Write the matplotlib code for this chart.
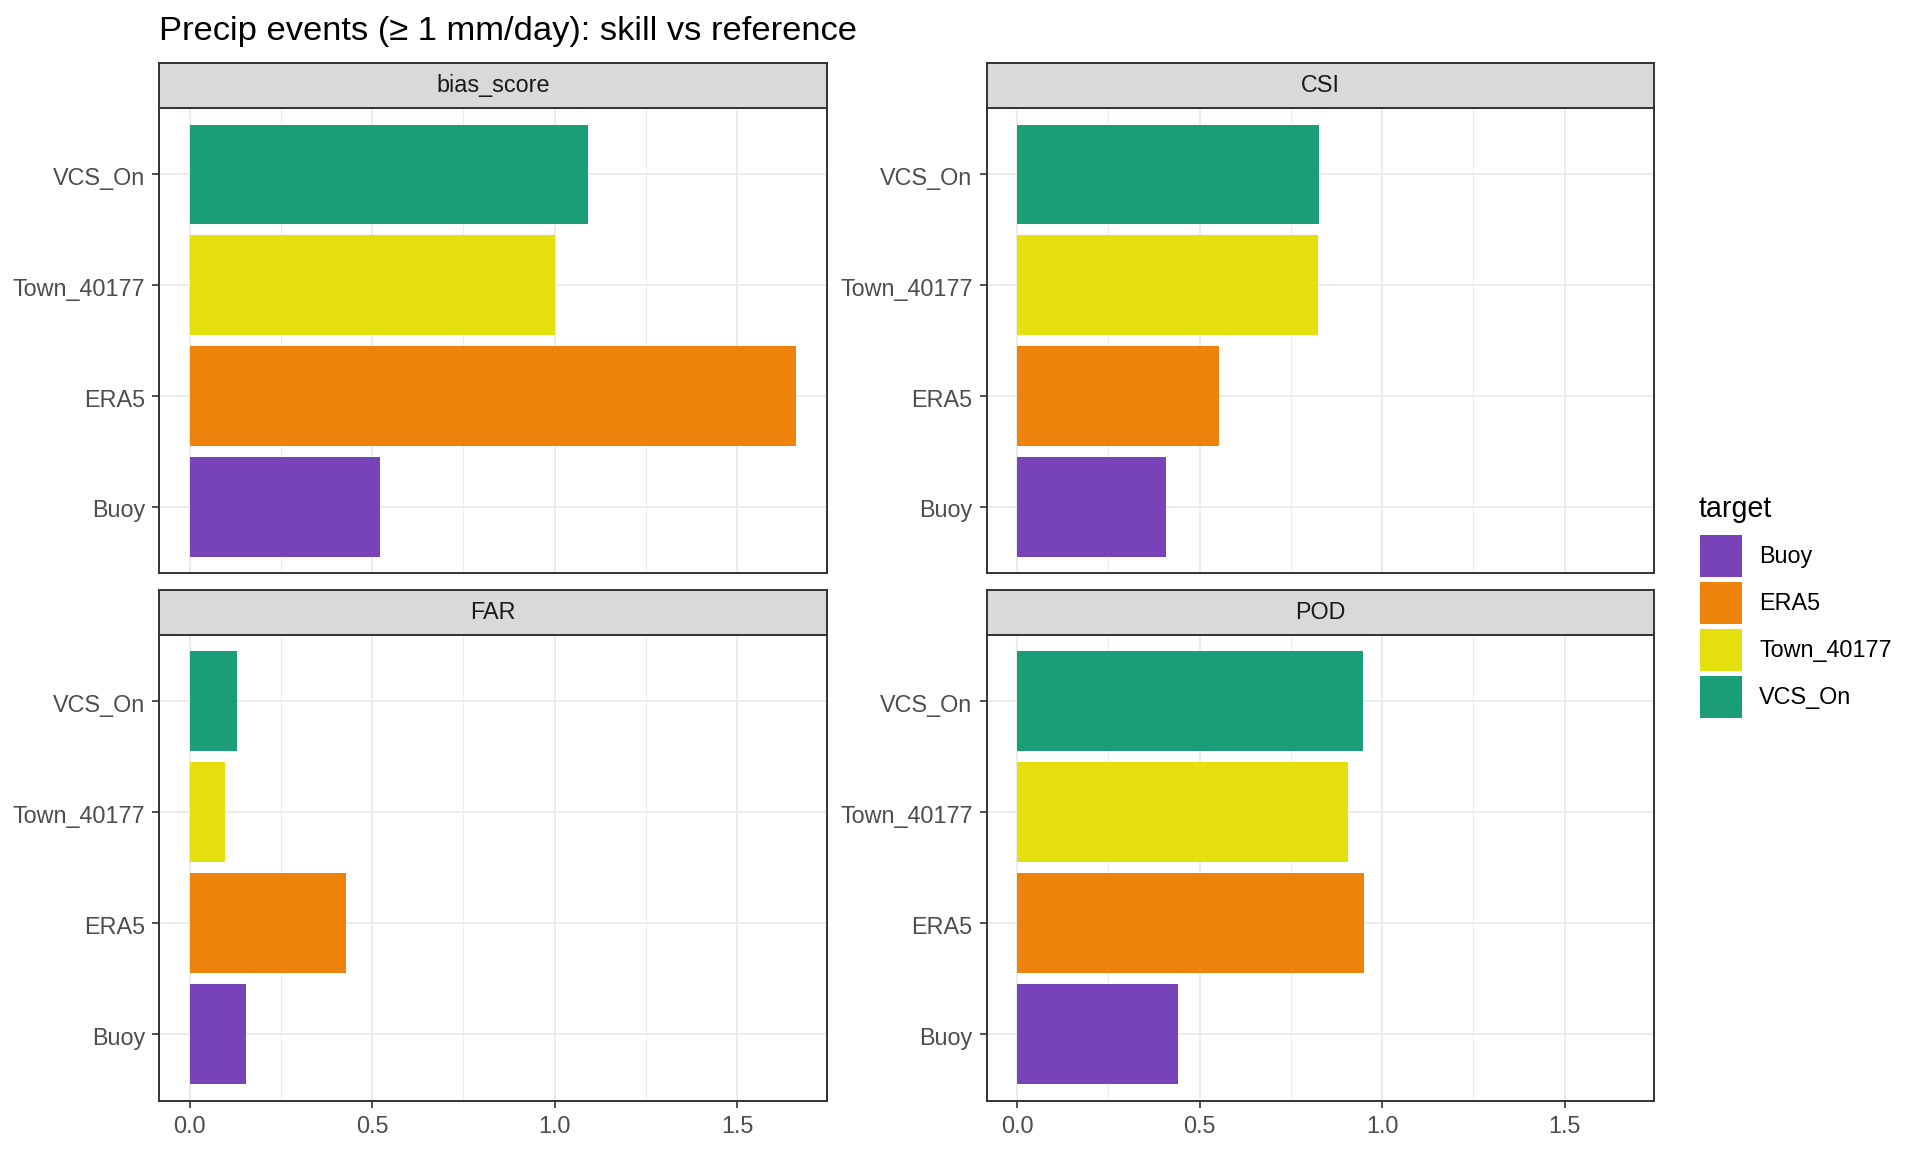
import matplotlib
matplotlib.use("Agg")
import matplotlib.pyplot as plt
from matplotlib.patches import Rectangle
import matplotlib.transforms as mtransforms
import numpy as np

plt.rcParams['font.family'] = ['Liberation Sans', 'DejaVu Sans']

targets = ["Buoy", "ERA5", "Town_40177", "VCS_On"]
colors = ["#7843B9", "#EE830B", "#E6DF0E", "#1B9E77"]
metrics = ["bias_score", "CSI", "FAR", "POD"]
bias_score = [0.522, 1.662, 1.000, 1.092]
csi = [0.408, 0.552, 0.824, 0.827]
far = [0.154, 0.429, 0.097, 0.131]
pod = [0.442, 0.951, 0.907, 0.948]
values = {"bias_score": bias_score, "CSI": csi, "FAR": far, "POD": pod}
xticks = [0.0, 0.5, 1.0, 1.5]
xtick_labels = ["0.0", "0.5", "1.0", "1.5"]
title = "Precip events (\u2265 1 mm/day): skill vs reference"

W, H = 1920.0, 1152.0
fig = plt.figure(figsize=(19.2, 11.52), dpi=100)

cols = [(159.3, 826.7), (986.7, 1654.0)]
rows = [(62.7, 108.0, 573.3), (589.7, 634.7, 1100.7)]

allmax = max(max(v) for v in values.values())
xlim = (-0.05 * allmax, 1.05 * allmax)

border_c = "#333333"
lw_border = 1.4
fs_small = 16.8
ylab_shift = mtransforms.ScaledTranslation(0, -1.5 / 100, fig.dpi_scale_trans)

for i, m in enumerate(metrics):
    r, c = divmod(i, 2)
    x0, x1 = cols[c]
    st, sb, pb = rows[r]
    ax = fig.add_axes([x0 / W, 1 - pb / H, (x1 - x0) / W, (pb - sb) / H])
    ypos = np.arange(1, len(targets) + 1)
    ax.barh(ypos, values[m], height=0.9, color=colors, zorder=3)
    ax.set_ylim(0.4, len(targets) + 0.6)
    ax.set_xlim(*xlim)
    ax.set_yticks(ypos)
    ax.set_yticklabels(targets)
    ax.set_xticks(xticks)
    ax.set_xticklabels(xtick_labels)
    ax.set_xticks([0.25, 0.75, 1.25], minor=True)
    ax.tick_params(axis='both', which='major', length=5.2, width=1.2, color=border_c,
                   labelsize=fs_small, labelcolor="#4D4D4D", pad=5)
    ax.tick_params(axis='x', which='minor', length=0)
    ax.grid(True, which='major', color="#EBEBEB", linewidth=1.3, zorder=0)
    ax.grid(True, which='minor', axis='x', color="#EBEBEB", linewidth=0.65, zorder=0)
    ax.set_axisbelow(True)
    for lab in ax.get_yticklabels():
        lab.set_transform(lab.get_transform() + ylab_shift)
    if r == 0:
        ax.tick_params(axis='x', which='major', labelbottom=False, length=0)
    for s in ax.spines.values():
        s.set_color(border_c)
        s.set_linewidth(lw_border)
    # strip
    sax = fig.add_axes([x0 / W, 1 - sb / H, (x1 - x0) / W, (sb - st) / H])
    sax.set_facecolor("#D9D9D9")
    sax.set_xticks([])
    sax.set_yticks([])
    for s in sax.spines.values():
        s.set_color(border_c)
        s.set_linewidth(lw_border)
    sax.text(0.5, 0.5, m, ha='center', va='center', fontsize=fs_small, color="#1A1A1A",
             transform=sax.transAxes)

fig.text(159 / W, 1 - 31.5 / H, title, ha='left', va='center', fontsize=24.8, color="black")

# legend
fig.text(1698.3 / W, 1 - 516.7 / H, "target", ha='left', va='baseline', fontsize=20.6, color="black")
key_tops = [535.0, 582.0, 629.0, 676.0]
key_w, key_h = 41.7, 42.3
for t, col, kt in zip(targets, colors, key_tops):
    fig.add_artist(Rectangle((1700 / W, 1 - (kt + key_h) / H), key_w / W, key_h / H,
                             transform=fig.transFigure, facecolor=col, edgecolor='none'))
    fig.text(1759 / W, 1 - (kt + key_h / 2) / H, t, ha='left', va='center',
             fontsize=fs_small, color="black")

fig.savefig("out.png", dpi=100, facecolor="white")
